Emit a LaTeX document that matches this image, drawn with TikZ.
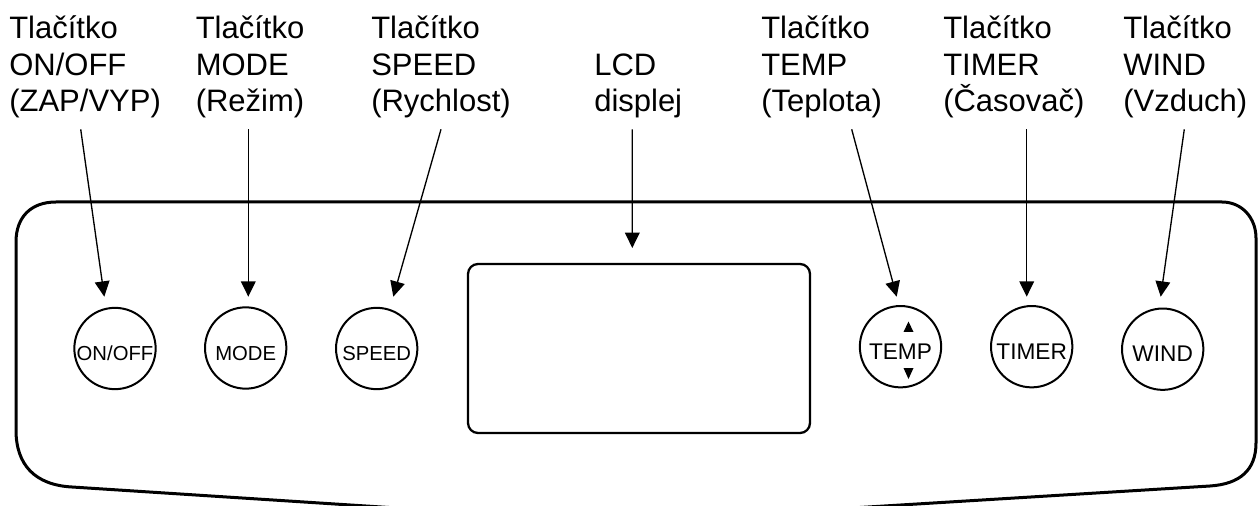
\documentclass[tikz,border=0pt]{standalone}
\usepackage{fontspec}
\setmainfont{Liberation Sans}
\usetikzlibrary{arrows.meta,calc}

\begin{document}
\begin{tikzpicture}[x=0.75pt,y=0.75pt,yscale=-1,xscale=1,
  caption/.style={anchor=south west,inner sep=0pt,align=left,font=\fontsize{23.25pt}{27.4pt}\selectfont},
  button/.style={draw,circle,line width=1.5pt,minimum size=61pt,inner sep=0pt,text height=18.5pt,text depth=0pt,font=\fontsize{15.2pt}{17pt}\selectfont},
  bigbutton/.style={button,font=\fontsize{17pt}{19pt}\selectfont},
  pointer/.style={-{Triangle[length=11.5pt,width=11pt]},line width=1pt}]
\useasboundingbox (0,0) rectangle (1258,506);

%Shape: Panel outline
\begin{scope}
\clip (0,0) rectangle (1258,506);
\draw[line width=2.25pt] (420,509.5) -- (72,487) .. controls (35,485) and (16,465) .. (16,430) -- (16,242) .. controls (16,217) and (31,202) .. (56,202) -- (1222,202) .. controls (1242,202) and (1256,218) .. (1256,238) -- (1256,443) .. controls (1256,470) and (1240,484) .. (1210,486) -- (860,507.5);
\end{scope}

%Shape: LCD display
\node[draw,rounded corners=7.5pt,line width=1.7pt,minimum width=256.5pt,minimum height=126.75pt] (lcd) at (639,348.5) {};

%Shape: Buttons
\node[button] (onoff) at (115,348.5) {ON/OFF};
\node[button] (mode) at (245.7,348) {MODE};
\node[button] (speed) at (376.7,348.5) {SPEED};
\node[bigbutton] (temp) at (900.5,346.7) {TEMP};
\node[bigbutton] (timer) at (1031.7,346.7) {TIMER};
\node[bigbutton] (wind) at (1162.7,349.2) {WIND};
%Shape: up and down marks on TEMP
\fill ($(temp.center)+(3,-14.7)$) -- ++(10,0) -- ++(-5,-10.5) -- cycle;
\fill ($(temp.center)+(3,21.3)$) -- ++(10,0) -- ++(-5,11) -- cycle;

% Text Node
\node[caption] (lonoff) at (9,118.6) {Tlačítko\\ON/OFF\\(ZAP/VYP)};
% Text Node
\node[caption] (lmode) at (195.5,118.6) {Tlačítko\\MODE\\(Režim)};
% Text Node
\node[caption] (lspeed) at (371,118.6) {Tlačítko\\SPEED\\(Rychlost)};
% Text Node
\node[caption] (llcd) at (594,118.6) {LCD\\displej};
% Text Node
\node[caption] (ltemp) at (761,118.6) {Tlačítko\\TEMP\\(Teplota)};
% Text Node
\node[caption] (ltimer) at (943,118.6) {Tlačítko\\TIMER\\(Časovač)};
% Text Node
\node[caption] (lwind) at (1123,118.6) {Tlačítko\\WIND\\(Vzduch)};

%Straight Lines
\draw[pointer] ($(lonoff.south west)+(71.7,10.7)$) -- ($(onoff.center)+(-10.7,-51.8)$);
\draw[pointer] ($(lmode.south west)+(52.8,10.7)$) -- ($(mode.center)+(2.6,-51.3)$);
\draw[pointer] ($(lspeed.south west)+(70,10.7)$) -- ($(speed.center)+(16.6,-51.8)$);
\draw[pointer] ($(llcd.south west)+(38.3,10.7)$) -- ($(lcd.center)+(-6.7,-100.5)$);
\draw[pointer] ($(ltemp.south west)+(90.7,10.7)$) -- ($(temp.center)+(-3.8,-50)$);
\draw[pointer] ($(ltimer.south west)+(83.7,10.7)$) -- ($(timer.center)+(-5,-50)$);
\draw[pointer] ($(lwind.south west)+(61.3,10.7)$) -- ($(wind.center)+(-2,-52.5)$);

\end{tikzpicture}
\end{document}
